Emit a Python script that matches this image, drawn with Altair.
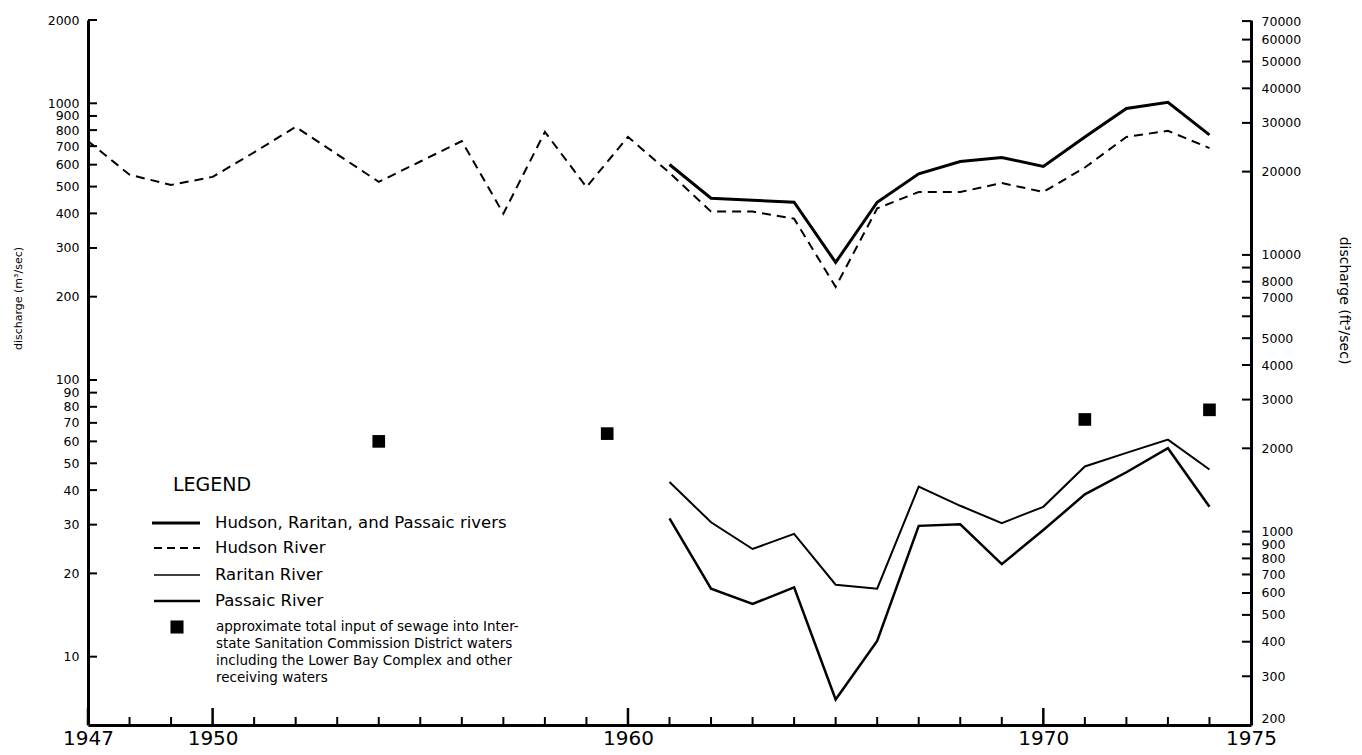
import altair as alt
import pandas as pd

# ---------------- data ----------------
years_hudson = list(range(1947, 1975))
hudson = [730, 552, 507, 542, 665, 822, 654, 520, 616, 730, 399, 788, 498, 756,
          561, 406, 406, 383, 217, 417, 478, 478, 515, 478, 586, 756, 795, 689]

years_rivers = list(range(1961, 1975))
total = [601, 454, 446, 439, 266, 439, 556, 616, 637, 591, 756, 958, 1009, 769]
raritan = [42.8, 30.6, 24.5, 27.8, 18.2, 17.6, 41.2, 35.1, 30.4, 34.8, 48.7, 54.5, 60.9, 47.5]
passaic = [31.6, 17.6, 15.5, 17.8, 7.0, 11.4, 29.7, 30.1, 21.6, 28.7, 38.6, 46.4, 56.7, 34.8]

sewage_years = [1954, 1959.5, 1971, 1974]
sewage = [60, 64, 72, 78]

x_labels = [1947, 1950, 1960, 1970, 1975]
x_minor_ticks = [1948, 1949, 1951, 1952, 1953, 1954, 1955, 1956, 1957, 1958, 1959,
                 1961, 1962, 1963, 1964, 1965, 1966, 1967, 1968, 1969, 1971, 1972,
                 1973, 1974]
x_major_ticks = [1947, 1950, 1960, 1970]

left_ticks = [10, 20, 30, 40, 50, 60, 70, 80, 90, 100, 200, 300, 400, 500, 600,
              700, 800, 900, 1000, 2000]
right_ticks_ft = [200, 300, 400, 500, 600, 700, 800, 900, 1000, 2000, 3000, 4000,
                  5000, 6000, 7000, 8000, 9000, 10000, 20000, 30000, 40000, 50000,
                  60000, 70000]
right_labels_ft = [200, 300, 400, 500, 600, 700, 800, 900, 1000, 2000, 3000, 4000,
                   5000, 7000, 8000, 10000, 20000, 30000, 40000, 50000, 60000, 70000]
FT_PER_M3 = 35.3147

legend_title = "LEGEND"
legend_labels = ["Hudson, Raritan, and Passaic rivers", "Hudson River",
                 "Raritan River", "Passaic River"]
sewage_label = ("approximate total input of sewage into Inter-\n"
                "state Sanitation Commission District waters\n"
                "including the Lower Bay Complex and other\n"
                "receiving waters")

# ---------------- chart ----------------
W, H = 1163, 705
FONT = "DejaVu Sans"
yscale = alt.Scale(type="log", domain=[200 / FT_PER_M3, 2000], nice=False)
xscale = alt.Scale(domain=[1947, 1975], nice=False, zero=False)

hud_df = pd.DataFrame({"year": years_hudson, "q": hudson})
riv_df = pd.DataFrame({"year": years_rivers, "total": total,
                       "raritan": raritan, "passaic": passaic})
sew_df = pd.DataFrame({"year": sewage_years, "q": sewage})
lt_df = pd.DataFrame({"q": left_ticks})
rt_df = pd.DataFrame({"q": [v / FT_PER_M3 for v in right_ticks_ft]})
xmin_df = pd.DataFrame({"year": x_minor_ticks})
xmaj_df = pd.DataFrame({"year": x_major_ticks})
one = pd.DataFrame({"k": [0]})

X_plain = lambda f: alt.X(f, scale=xscale, axis=None)
Y_plain = lambda f: alt.Y(f, scale=yscale, axis=None)

hudson_line = alt.Chart(hud_df).mark_line(
    color="black", strokeWidth=2, strokeDash=[9, 6]
).encode(
    x=alt.X("year:Q", scale=xscale, axis=alt.Axis(
        orient="bottom", values=x_labels, format="d", title=None, ticks=False,
        tickSize=0, domainWidth=3, domainColor="black", labelFontSize=20,
        labelFont=FONT, labelPadding=3, grid=False, labelColor="black",
        labelFlush=False, labelOverlap=False, labelBaseline="top")),
    y=alt.Y("q:Q", scale=yscale, axis=alt.Axis(
        orient="left", values=left_ticks, format="d", title="discharge (m³/sec)",
        ticks=False, tickSize=0, domainWidth=3, domainColor="black",
        labelFontSize=12.5, labelFont=FONT, labelColor="black", labelPadding=9,
        labelOverlap=False, grid=False, titleX=-70, titleY=278, titleAngle=270,
        titleFontSize=11, titleFont=FONT, titleFontWeight="normal",
        titleAlign="center", titleBaseline="middle", titleColor="black")),
)

total_line = alt.Chart(riv_df).mark_line(color="black", strokeWidth=3).encode(
    x=X_plain("year:Q"), y=Y_plain("total:Q"))
raritan_line = alt.Chart(riv_df).mark_line(color="black", strokeWidth=2).encode(
    x=X_plain("year:Q"), y=Y_plain("raritan:Q"))
passaic_line = alt.Chart(riv_df).mark_line(color="black", strokeWidth=2.5).encode(
    x=X_plain("year:Q"), y=Y_plain("passaic:Q"))

sewage_pts = alt.Chart(sew_df).mark_square(color="black", size=160, opacity=1).encode(
    x=X_plain("year:Q"), y=Y_plain("q:Q"))

left_tick_rules = alt.Chart(lt_df).mark_rule(color="black", strokeWidth=2).encode(
    y=Y_plain("q:Q"), x=alt.value(0), x2=alt.value(9))

right_tick_rules = alt.Chart(rt_df).mark_rule(color="black", strokeWidth=2).encode(
    y=alt.Y("q:Q", scale=yscale, axis=alt.Axis(
        orient="right", values=[v / FT_PER_M3 for v in right_labels_ft],
        labelExpr="format(round(datum.value * 35.3147), 'd')",
        title="discharge (ft³/sec)", ticks=False, tickSize=0, domainWidth=3,
        domainColor="black", labelFontSize=12.5, labelFont=FONT, labelColor="black",
        labelPadding=10, labelOverlap=False, labelFlush=True, grid=False,
        titleX=92, titleY=280,
        titleAngle=90, titleFontSize=14, titleFont=FONT, titleFontWeight="normal",
        titleAlign="center", titleBaseline="middle", titleColor="black")),
    x=alt.value(W - 9), x2=alt.value(W))

x_minor = alt.Chart(xmin_df).mark_rule(color="black", strokeWidth=2).encode(
    x=X_plain("year:Q"), y=alt.value(H), y2=alt.value(H - 8))
x_major = alt.Chart(xmaj_df).mark_rule(color="black", strokeWidth=2.5).encode(
    x=X_plain("year:Q"), y=alt.value(H), y2=alt.value(H - 17))

# ---------------- legend (annotation) ----------------
def ltext(txt, x, y, size=16.5, **kw):
    return alt.Chart(one).mark_text(
        align="left", baseline="middle", font=FONT, fontSize=size, color="black", **kw
    ).encode(x=alt.value(x), y=alt.value(y), text=alt.value(txt))

def lrule(x1, x2, y, width=2, dash=None):
    kw = {"strokeDash": dash} if dash else {}
    return alt.Chart(one).mark_rule(color="black", strokeWidth=width, **kw).encode(
        x=alt.value(x1), x2=alt.value(x2), y=alt.value(y))

legend_layers = [
    ltext(legend_title, 85, 465, size=19),
    lrule(64, 112, 503, 3), ltext(legend_labels[0], 127, 503),
    lrule(66, 112, 528, 2, [8, 5]), ltext(legend_labels[1], 127, 528),
    lrule(66, 112, 555, 1.5), ltext(legend_labels[2], 127, 555),
    lrule(66, 112, 581, 2.5), ltext(legend_labels[3], 127, 581),
    alt.Chart(one).mark_square(color="black", size=170, opacity=1).encode(
        x=alt.value(89), y=alt.value(607)),
    alt.Chart(one).mark_text(
        align="left", baseline="top", font=FONT, fontSize=13.5, color="black",
        lineBreak="\n", lineHeight=17
    ).encode(x=alt.value(128), y=alt.value(600), text=alt.value(sewage_label)),
]

chart = alt.layer(
    hudson_line, right_tick_rules, total_line, raritan_line, passaic_line,
    sewage_pts, left_tick_rules, x_minor, x_major, *legend_layers
).resolve_scale(y="shared", x="shared").resolve_axis(
    y="independent", x="independent"
).properties(
    width=W, height=H,
    autosize=alt.AutoSizeParams(type="none"),
    padding={"left": 88, "top": 20, "right": 111, "bottom": 30},
    background="white",
).configure_view(stroke=None)

chart.save("out.html", embed_options={"renderer": "svg", "actions": False})
